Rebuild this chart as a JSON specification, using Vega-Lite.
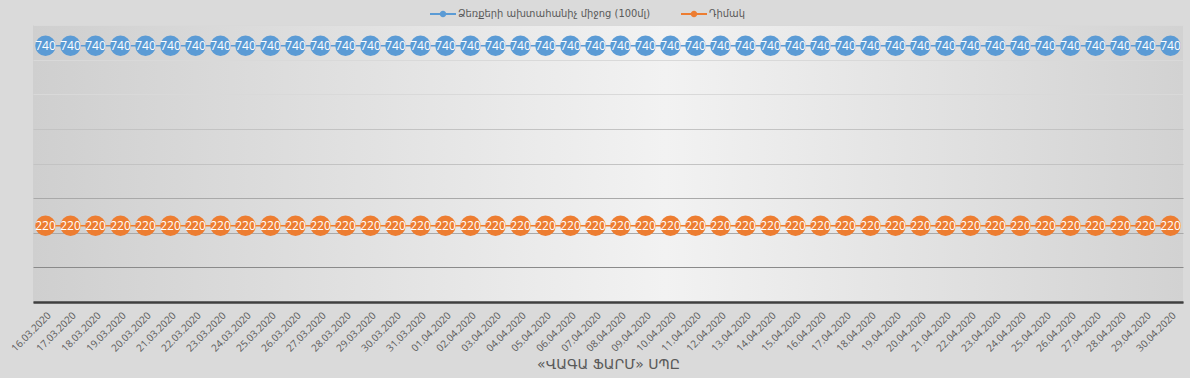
{
  "$schema": "https://vega.github.io/schema/vega-lite/v6.json",
  "autosize": "none",
  "width": 1150,
  "height": 277,
  "padding": {"left": 33, "top": 25, "right": 7, "bottom": 76},
  "background": "#dadada",
  "config": {
    "view": {"stroke": null, "fill": {"gradient": "linear", "x1": 0, "y1": 0.5, "x2": 1, "y2": 0.5, "stops": [{"offset": 0, "color": "#cfcfcf"}, {"offset": 0.55, "color": "#f2f2f2"}, {"offset": 1, "color": "#d2d2d2"}]}},
    "font": "Open Sans, DejaVu Sans"
  },
  "datasets": {
    "rows": [
      {"date": "16.03.2020", "series": "Ձեռքերի ախտահանիչ միջոց (100մլ)", "value": 740},
      {"date": "17.03.2020", "series": "Ձեռքերի ախտահանիչ միջոց (100մլ)", "value": 740},
      {"date": "18.03.2020", "series": "Ձեռքերի ախտահանիչ միջոց (100մլ)", "value": 740},
      {"date": "19.03.2020", "series": "Ձեռքերի ախտահանիչ միջոց (100մլ)", "value": 740},
      {"date": "20.03.2020", "series": "Ձեռքերի ախտահանիչ միջոց (100մլ)", "value": 740},
      {"date": "21.03.2020", "series": "Ձեռքերի ախտահանիչ միջոց (100մլ)", "value": 740},
      {"date": "22.03.2020", "series": "Ձեռքերի ախտահանիչ միջոց (100մլ)", "value": 740},
      {"date": "23.03.2020", "series": "Ձեռքերի ախտահանիչ միջոց (100մլ)", "value": 740},
      {"date": "24.03.2020", "series": "Ձեռքերի ախտահանիչ միջոց (100մլ)", "value": 740},
      {"date": "25.03.2020", "series": "Ձեռքերի ախտահանիչ միջոց (100մլ)", "value": 740},
      {"date": "26.03.2020", "series": "Ձեռքերի ախտահանիչ միջոց (100մլ)", "value": 740},
      {"date": "27.03.2020", "series": "Ձեռքերի ախտահանիչ միջոց (100մլ)", "value": 740},
      {"date": "28.03.2020", "series": "Ձեռքերի ախտահանիչ միջոց (100մլ)", "value": 740},
      {"date": "29.03.2020", "series": "Ձեռքերի ախտահանիչ միջոց (100մլ)", "value": 740},
      {"date": "30.03.2020", "series": "Ձեռքերի ախտահանիչ միջոց (100մլ)", "value": 740},
      {"date": "31.03.2020", "series": "Ձեռքերի ախտահանիչ միջոց (100մլ)", "value": 740},
      {"date": "01.04.2020", "series": "Ձեռքերի ախտահանիչ միջոց (100մլ)", "value": 740},
      {"date": "02.04.2020", "series": "Ձեռքերի ախտահանիչ միջոց (100մլ)", "value": 740},
      {"date": "03.04.2020", "series": "Ձեռքերի ախտահանիչ միջոց (100մլ)", "value": 740},
      {"date": "04.04.2020", "series": "Ձեռքերի ախտահանիչ միջոց (100մլ)", "value": 740},
      {"date": "05.04.2020", "series": "Ձեռքերի ախտահանիչ միջոց (100մլ)", "value": 740},
      {"date": "06.04.2020", "series": "Ձեռքերի ախտահանիչ միջոց (100մլ)", "value": 740},
      {"date": "07.04.2020", "series": "Ձեռքերի ախտահանիչ միջոց (100մլ)", "value": 740},
      {"date": "08.04.2020", "series": "Ձեռքերի ախտահանիչ միջոց (100մլ)", "value": 740},
      {"date": "09.04.2020", "series": "Ձեռքերի ախտահանիչ միջոց (100մլ)", "value": 740},
      {"date": "10.04.2020", "series": "Ձեռքերի ախտահանիչ միջոց (100մլ)", "value": 740},
      {"date": "11.04.2020", "series": "Ձեռքերի ախտահանիչ միջոց (100մլ)", "value": 740},
      {"date": "12.04.2020", "series": "Ձեռքերի ախտահանիչ միջոց (100մլ)", "value": 740},
      {"date": "13.04.2020", "series": "Ձեռքերի ախտահանիչ միջոց (100մլ)", "value": 740},
      {"date": "14.04.2020", "series": "Ձեռքերի ախտահանիչ միջոց (100մլ)", "value": 740},
      {"date": "15.04.2020", "series": "Ձեռքերի ախտահանիչ միջոց (100մլ)", "value": 740},
      {"date": "16.04.2020", "series": "Ձեռքերի ախտահանիչ միջոց (100մլ)", "value": 740},
      {"date": "17.04.2020", "series": "Ձեռքերի ախտահանիչ միջոց (100մլ)", "value": 740},
      {"date": "18.04.2020", "series": "Ձեռքերի ախտահանիչ միջոց (100մլ)", "value": 740},
      {"date": "19.04.2020", "series": "Ձեռքերի ախտահանիչ միջոց (100մլ)", "value": 740},
      {"date": "20.04.2020", "series": "Ձեռքերի ախտահանիչ միջոց (100մլ)", "value": 740},
      {"date": "21.04.2020", "series": "Ձեռքերի ախտահանիչ միջոց (100մլ)", "value": 740},
      {"date": "22.04.2020", "series": "Ձեռքերի ախտահանիչ միջոց (100մլ)", "value": 740},
      {"date": "23.04.2020", "series": "Ձեռքերի ախտահանիչ միջոց (100մլ)", "value": 740},
      {"date": "24.04.2020", "series": "Ձեռքերի ախտահանիչ միջոց (100մլ)", "value": 740},
      {"date": "25.04.2020", "series": "Ձեռքերի ախտահանիչ միջոց (100մլ)", "value": 740},
      {"date": "26.04.2020", "series": "Ձեռքերի ախտահանիչ միջոց (100մլ)", "value": 740},
      {"date": "27.04.2020", "series": "Ձեռքերի ախտահանիչ միջոց (100մլ)", "value": 740},
      {"date": "28.04.2020", "series": "Ձեռքերի ախտահանիչ միջոց (100մլ)", "value": 740},
      {"date": "29.04.2020", "series": "Ձեռքերի ախտահանիչ միջոց (100մլ)", "value": 740},
      {"date": "30.04.2020", "series": "Ձեռքերի ախտահանիչ միջոց (100մլ)", "value": 740},
      {"date": "16.03.2020", "series": "Դիմակ", "value": 220},
      {"date": "17.03.2020", "series": "Դիմակ", "value": 220},
      {"date": "18.03.2020", "series": "Դիմակ", "value": 220},
      {"date": "19.03.2020", "series": "Դիմակ", "value": 220},
      {"date": "20.03.2020", "series": "Դիմակ", "value": 220},
      {"date": "21.03.2020", "series": "Դիմակ", "value": 220},
      {"date": "22.03.2020", "series": "Դիմակ", "value": 220},
      {"date": "23.03.2020", "series": "Դիմակ", "value": 220},
      {"date": "24.03.2020", "series": "Դիմակ", "value": 220},
      {"date": "25.03.2020", "series": "Դիմակ", "value": 220},
      {"date": "26.03.2020", "series": "Դիմակ", "value": 220},
      {"date": "27.03.2020", "series": "Դիմակ", "value": 220},
      {"date": "28.03.2020", "series": "Դիմակ", "value": 220},
      {"date": "29.03.2020", "series": "Դիմակ", "value": 220},
      {"date": "30.03.2020", "series": "Դիմակ", "value": 220},
      {"date": "31.03.2020", "series": "Դիմակ", "value": 220},
      {"date": "01.04.2020", "series": "Դիմակ", "value": 220},
      {"date": "02.04.2020", "series": "Դիմակ", "value": 220},
      {"date": "03.04.2020", "series": "Դիմակ", "value": 220},
      {"date": "04.04.2020", "series": "Դիմակ", "value": 220},
      {"date": "05.04.2020", "series": "Դիմակ", "value": 220},
      {"date": "06.04.2020", "series": "Դիմակ", "value": 220},
      {"date": "07.04.2020", "series": "Դիմակ", "value": 220},
      {"date": "08.04.2020", "series": "Դիմակ", "value": 220},
      {"date": "09.04.2020", "series": "Դիմակ", "value": 220},
      {"date": "10.04.2020", "series": "Դիմակ", "value": 220},
      {"date": "11.04.2020", "series": "Դիմակ", "value": 220},
      {"date": "12.04.2020", "series": "Դիմակ", "value": 220},
      {"date": "13.04.2020", "series": "Դիմակ", "value": 220},
      {"date": "14.04.2020", "series": "Դիմակ", "value": 220},
      {"date": "15.04.2020", "series": "Դիմակ", "value": 220},
      {"date": "16.04.2020", "series": "Դիմակ", "value": 220},
      {"date": "17.04.2020", "series": "Դիմակ", "value": 220},
      {"date": "18.04.2020", "series": "Դիմակ", "value": 220},
      {"date": "19.04.2020", "series": "Դիմակ", "value": 220},
      {"date": "20.04.2020", "series": "Դիմակ", "value": 220},
      {"date": "21.04.2020", "series": "Դիմակ", "value": 220},
      {"date": "22.04.2020", "series": "Դիմակ", "value": 220},
      {"date": "23.04.2020", "series": "Դիմակ", "value": 220},
      {"date": "24.04.2020", "series": "Դիմակ", "value": 220},
      {"date": "25.04.2020", "series": "Դիմակ", "value": 220},
      {"date": "26.04.2020", "series": "Դիմակ", "value": 220},
      {"date": "27.04.2020", "series": "Դիմակ", "value": 220},
      {"date": "28.04.2020", "series": "Դիմակ", "value": 220},
      {"date": "29.04.2020", "series": "Դիմակ", "value": 220},
      {"date": "30.04.2020", "series": "Դիմակ", "value": 220}
    ]
  },
  "data": {"name": "rows"},
  "encoding": {
    "x": {
      "field": "date", "type": "ordinal", "sort": null,
      "axis": {
        "labelAngle": -45, "labelFont": "Open Sans", "labelFontSize": 10, "labelColor": "#595959",
        "labelPadding": 8, "ticks": false, "grid": false,
        "domainColor": "#3f3f3f", "domainWidth": 2.5,
        "title": "«ՎԱԳԱ ՖԱՐՄ» ՍՊԸ", "titleFont": "DejaVu Sans, Open Sans", "titleFontSize": 14, "titleFontWeight": "normal",
        "titleColor": "#595959", "titlePadding": 4
      }
    },
    "y": {
      "field": "value", "type": "quantitative",
      "scale": {"domain": [0, 800]},
      "axis": {
        "values": [0, 100, 200, 300, 400, 500, 600, 700, 800],
        "labels": false, "ticks": false, "domain": false, "title": null,
        "grid": true, "gridWidth": 1,
        "gridColor": {"condition": [{"test": "datum.value <= 100", "value": "#8a8a8a"}, {"test": "datum.value <= 300", "value": "#a9a9a9"}, {"test": "datum.value <= 500", "value": "#c3c3c3"}], "value": "#d9d9d9"}
      }
    },
    "color": {
      "field": "series", "type": "nominal",
      "scale": {"domain": ["Ձեռքերի ախտահանիչ միջոց (100մլ)", "Դիմակ"], "range": ["#5b9bd5", "#ed7d31"]},
      "legend": {
        "title": null, "orient": "none", "direction": "horizontal", "legendX": 397, "legendY": -24,
        "symbolType": "M-1,-0.08H1V0.08H-1Z M0.25,0A0.25,0.25 0 1,1 -0.25,0A0.25,0.25 0 1,1 0.25,0Z",
        "symbolSize": 676, "symbolStrokeWidth": 0, "symbolOpacity": 1,
        "labelFont": "DejaVu Sans Condensed, DejaVu Sans, Open Sans", "labelFontSize": 11, "labelColor": "#595959", "labelLimit": 0,
        "labelOffset": 2, "columnPadding": 30, "padding": 0
      }
    }
  },
  "layer": [
    {"mark": {"type": "line", "strokeWidth": 1.5}},
    {"mark": {"type": "point", "filled": true, "size": 420, "opacity": 1, "shape": "circle"}},
    {"mark": {"type": "text", "color": "white", "fontSize": 12, "font": "Open Sans", "baseline": "middle", "align": "center"}, "encoding": {"text": {"field": "value", "type": "quantitative"}, "color": {"value": "white"}}}
  ]
}
